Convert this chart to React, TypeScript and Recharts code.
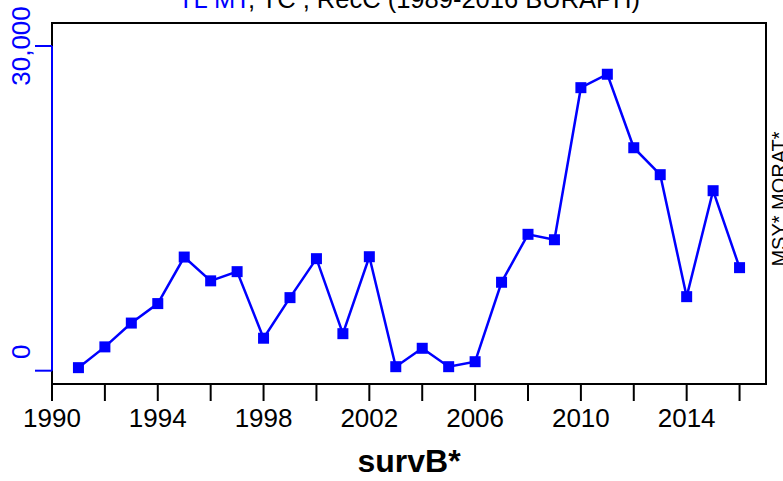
import { LineChart, Line, XAxis, YAxis, ReferenceArea, ReferenceLine } from "recharts";

const years = [
  1991, 1992, 1993, 1994, 1995, 1996, 1997, 1998, 1999, 2000, 2001, 2002, 2003,
  2004, 2005, 2006, 2007, 2008, 2009, 2010, 2011, 2012, 2013, 2014, 2015, 2016,
];
const survB = [
  280, 2200, 4400, 6200, 10500, 8300, 9150, 3000, 6750, 10350, 3420, 10530, 370,
  2070, 370, 830, 8170, 12600, 12100, 26150, 27390, 20600, 18110, 6840, 16630, 9520,
];
const xTicks = [1990, 1992, 1994, 1996, 1998, 2000, 2002, 2004, 2006, 2008, 2010, 2012, 2014, 2016];
const xLabelled = [1990, 1994, 1998, 2002, 2006, 2010, 2014];
const yTicks = [0, 30000];
const yTickLabels = ["0", "30,000"];

const FONT = "'Liberation Sans', Arial, sans-serif";
const BLUE = "#0000ff";
const X_DOMAIN: [number, number] = [1990, 2017];
const Y_DOMAIN: [number, number] = [-1230, 32125];

const data = years.map((year, i) => ({ year, value: survB[i] }));

const XTick = (props: any) => {
  const { x, y, payload } = props;
  if (!xLabelled.includes(payload.value)) return null;
  return (
    <text x={x} y={y + 24} textAnchor="middle" fontSize={26} fontFamily={FONT} fill="#000">
      {payload.value}
    </text>
  );
};

// the "0" label sits a bit above its tick in the original, keep that
const YTick = (props: any) => {
  const { x, y, payload } = props;
  const i = yTicks.indexOf(payload.value);
  const cy = payload.value === 0 ? y - 19 : y;
  return (
    <text
      x={x - 3}
      y={cy}
      transform={`rotate(-90, ${x - 3}, ${cy})`}
      textAnchor="middle"
      fontSize={26}
      fontFamily={FONT}
      fill={BLUE}
    >
      {yTickLabels[i]}
    </text>
  );
};

const Square = (props: any) => {
  const { cx, cy } = props;
  if (cx == null || cy == null) return null;
  return <rect x={cx - 5.5} y={cy - 5.5} width={11} height={11} fill={BLUE} />;
};

export default function App() {
  return (
    <div style={{ position: "absolute", left: 0, top: 0, width: 783, height: 481, background: "#fff" }}>
      <LineChart width={783} height={481} data={data} margin={{ top: 23, right: 17, bottom: 37, left: 0 }}>
        <XAxis
          dataKey="year"
          type="number"
          domain={X_DOMAIN}
          ticks={xTicks}
          allowDataOverflow
          axisLine={false}
          tickSize={17}
          tickLine={{ stroke: "#000", strokeWidth: 2 }}
          tick={<XTick />}
          height={60}
          interval={0}
        />
        <YAxis
          type="number"
          domain={Y_DOMAIN}
          ticks={yTicks}
          allowDataOverflow
          axisLine={false}
          tickSize={17}
          tickLine={{ stroke: BLUE, strokeWidth: 2 }}
          tick={<YTick />}
          width={52}
          interval={0}
        />
        <ReferenceArea
          x1={X_DOMAIN[0]}
          x2={X_DOMAIN[1]}
          y1={Y_DOMAIN[0]}
          y2={Y_DOMAIN[1]}
          fill="none"
          fillOpacity={0}
          stroke="#000"
          strokeWidth={2}
        />
        <ReferenceLine
          segment={[
            { x: X_DOMAIN[0], y: 0 },
            { x: X_DOMAIN[0], y: 30000 },
          ]}
          stroke={BLUE}
          strokeWidth={2}
        />
        <Line
          dataKey="value"
          stroke={BLUE}
          strokeWidth={2.5}
          dot={<Square />}
          activeDot={false}
          isAnimationActive={false}
        />
        <text x={409} y={8} textAnchor="middle" fontSize={25.5} fontFamily={FONT} fill="#000">
          <tspan fill={BLUE}>TL MT</tspan>, TC , RecC (1989-2016 BURAPH)
        </text>
        <text
          x={409}
          y={472}
          textAnchor="middle"
          fontSize={32}
          fontWeight="bold"
          fontFamily={FONT}
          fill="#000"
        >
          survB*
        </text>
        <text
          x={786}
          y={199}
          transform="rotate(-90, 786, 199)"
          textAnchor="middle"
          fontSize={20}
          fontFamily={FONT}
          fill="#000"
        >
          MSY* MORAT*
        </text>
      </LineChart>
    </div>
  );
}
